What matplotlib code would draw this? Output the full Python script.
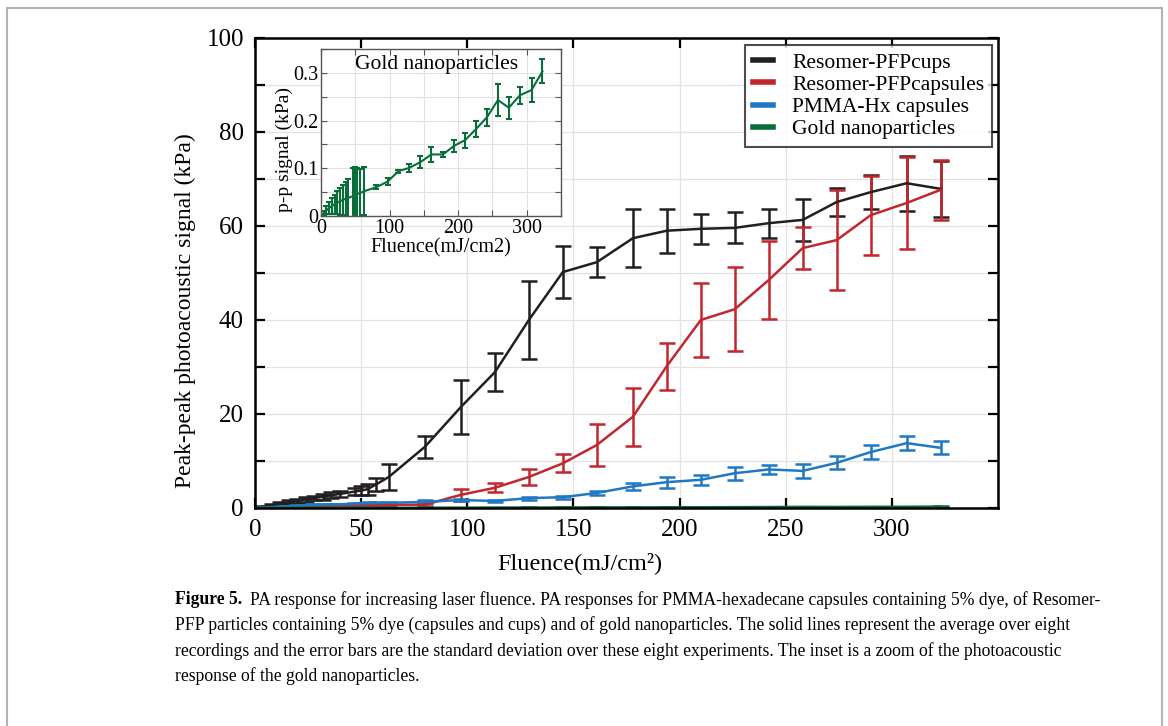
import matplotlib.pyplot as plt
from matplotlib.lines import Line2D
from matplotlib.patches import Rectangle
from matplotlib.ticker import MultipleLocator, FixedLocator

plt.rcParams['font.family'] = ['Liberation Serif', 'DejaVu Serif']

# fluence steps (mJ/cm2), shared by all four samples
fluence = [0, 4, 8, 12, 16, 20, 24, 28, 32, 36, 40, 47, 50, 53, 57, 63,
           80, 97, 113, 129, 145, 161, 178, 194, 210, 226, 242, 258, 274, 290, 307, 323]

# Resomer-PFP cups (kPa)
cups = [0, 0.3, 0.6, 0.9, 1.2, 1.5, 1.8, 2.1, 2.4, 2.7, 3.0, 3.5, 3.7, 4.0, 5.0, 6.6,
        13.0, 21.5, 28.9, 40.0, 50.2, 52.3, 57.4, 59.0, 59.4, 59.6, 60.6, 61.3, 65.1, 67.2, 69.1, 67.9]
cups_err = [0, 0.2, 0.3, 0.3, 0.4, 0.4, 0.5, 0.5, 0.6, 0.6, 0.7, 0.8, 0.9, 1.2, 1.3, 2.8,
            2.4, 5.7, 4.1, 8.2, 5.5, 3.2, 6.2, 4.7, 3.2, 3.3, 3.1, 4.5, 3.0, 3.6, 5.9, 6.0]

# Resomer-PFP capsules
capsules = [0, 0.05, 0.1, 0.15, 0.2, 0.25, 0.3, 0.35, 0.4, 0.45, 0.5, 0.55, 0.6, 0.6, 0.65, 0.7,
            0.7, 2.8, 4.3, 6.6, 9.5, 13.4, 19.4, 30.2, 40.0, 42.3, 48.5, 55.3, 57.0, 62.3, 64.9, 67.7]
capsules_err = [0, 0.1, 0.1, 0.1, 0.1, 0.1, 0.15, 0.15, 0.15, 0.15, 0.2, 0.2, 0.2, 0.2, 0.2, 0.2,
                0.3, 1.3, 1.0, 1.7, 1.9, 4.4, 6.2, 5.0, 7.8, 9.0, 8.3, 4.4, 10.7, 8.4, 9.7, 6.4]

# PMMA-Hx capsules
pmma = [0, 0.1, 0.2, 0.3, 0.4, 0.5, 0.6, 0.65, 0.7, 0.75, 0.8, 0.9, 0.95, 1.0, 1.05, 1.1,
        1.3, 1.7, 1.5, 2.1, 2.3, 3.2, 4.6, 5.5, 6.0, 7.4, 8.2, 7.9, 9.6, 11.9, 13.8, 12.8]
pmma_err = [0, 0.1, 0.1, 0.1, 0.1, 0.1, 0.1, 0.15, 0.15, 0.15, 0.15, 0.2, 0.2, 0.2, 0.2, 0.2,
            0.3, 0.3, 0.2, 0.3, 0.3, 0.5, 0.8, 1.2, 1.0, 1.4, 1.0, 1.5, 1.4, 1.4, 1.5, 1.4]

# gold nanoparticles
gold = [0, 0.006, 0.012, 0.017, 0.021, 0.025, 0.028, 0.031, 0.034, 0.036, 0.038, 0.042, 0.044, 0.046, 0.048, 0.052,
        0.060, 0.072, 0.094, 0.101, 0.113, 0.129, 0.129, 0.147, 0.159, 0.182, 0.207, 0.243, 0.227, 0.253, 0.264, 0.303]
gold_err = [0, 0.004, 0.008, 0.012, 0.016, 0.020, 0.024, 0.028, 0.032, 0.036, 0.040, 0.058, 0.058, 0.055, 0.050, 0.050,
            0.004, 0.007, 0.003, 0.009, 0.013, 0.015, 0.005, 0.012, 0.016, 0.017, 0.018, 0.034, 0.023, 0.018, 0.025, 0.025]

labels = ["Resomer-PFPcups", "Resomer-PFPcapsules", "PMMA-Hx capsules", "Gold nanoparticles"]
colors = ["#231f20", "#c1272d", "#1f78c1", "#0a6e3a"]
x_ticks = [0, 50, 100, 150, 200, 250, 300]

fig = plt.figure(figsize=(11.68, 7.26), dpi=100)

# grey frame round the whole figure
fig.patches.append(Rectangle((7 / 1168, -0.05), 1155 / 1168, 1.05 - 8 / 726,
                             transform=fig.transFigure, fill=False,
                             edgecolor="#b4b4b4", lw=1.5))

ax = fig.add_axes([255 / 1168, 1 - 508 / 726, 743 / 1168, 470 / 726])
for y, e, c in zip([cups, capsules, pmma, gold], [cups_err, capsules_err, pmma_err, gold_err], colors):
    ax.errorbar(fluence, y, yerr=e, color=c, lw=1.8, elinewidth=1.8,
                capsize=6, capthick=1.8)

ax.set_xlim(0, 350)
ax.set_ylim(0, 100)
ax.xaxis.set_major_locator(FixedLocator(x_ticks))
ax.yaxis.set_major_locator(MultipleLocator(20))
ax.yaxis.set_minor_locator(MultipleLocator(10))
ax.grid(True, which="both", color="#e2e2e2", lw=0.9)
ax.set_axisbelow(True)
ax.tick_params(which="both", direction="in", top=True, right=True,
               length=7, width=1.6, labelsize=18)
ax.tick_params(axis="x", pad=8)
ax.tick_params(axis="y", pad=8)
for s in ax.spines.values():
    s.set_linewidth(1.8)
ax.set_xlabel("Fluence(mJ/cm²)", fontsize=17.5)
ax.set_ylabel("Peak-peak photoacoustic signal (kPa)", fontsize=17)
ax.xaxis.set_label_coords(0.437, -0.093)
ax.yaxis.set_label_coords(-0.08, 0.42)

handles = [Line2D([], [], color=c, lw=4) for c in colors]
leg = ax.legend(handles, labels, loc="upper right", bbox_to_anchor=(0.992, 0.985),
                fontsize=15.5, frameon=True, fancybox=False, handlelength=0.95,
                borderpad=0.35, labelspacing=0.1, handletextpad=0.9, borderaxespad=0)
leg.get_frame().set_edgecolor("#222222")
leg.get_frame().set_linewidth(1.5)

# inset: gold only
ins = fig.add_axes([321 / 1168, 1 - 216 / 726, 240 / 1168, 167 / 726])
ins.errorbar(fluence, gold, yerr=gold_err, color=colors[3], lw=1.5,
             elinewidth=1.5, capsize=2.5, capthick=1.5)
ins.set_xlim(0, 350)
ins.set_ylim(0, 0.35)
ins.xaxis.set_major_locator(MultipleLocator(100))
ins.xaxis.set_minor_locator(MultipleLocator(50))
ins.yaxis.set_major_locator(MultipleLocator(0.1))
ins.yaxis.set_minor_locator(MultipleLocator(0.05))
ins.yaxis.set_major_formatter(plt.FuncFormatter(lambda v, p: "0" if v == 0 else f"{v:.1f}"))
ins.grid(True, which="both", color="#e2e2e2", lw=0.8)
ins.set_axisbelow(True)
ins.tick_params(which="both", direction="in", top=True, right=True,
                length=4, width=0.8, color="#555555", labelsize=14.5, pad=2)
for s in ins.spines.values():
    s.set_linewidth(1.0)
    s.set_color("#555555")
ins.set_xlabel("Fluence(mJ/cm2)", fontsize=14.5, labelpad=0)
ins.set_ylabel("p-p signal (kPa)", fontsize=14, labelpad=0)
ins.yaxis.set_label_coords(-0.115, 0.4)
ins.text(0.483, 0.91, "Gold nanoparticles", transform=ins.transAxes,
         ha="center", va="center", fontsize=15.5)

# caption
cap_lines = [
    "PA response for increasing laser fluence. PA responses for PMMA-hexadecane capsules containing 5% dye, of Resomer-",
    "PFP particles containing 5% dye (capsules and cups) and of gold nanoparticles. The solid lines represent the average over eight",
    "recordings and the error bars are the standard deviation over these eight experiments. The inset is a zoom of the photoacoustic",
    "response of the gold nanoparticles.",
]
cap_y = [600, 625, 651, 676]
cap_size = 12.7
x0 = 175 / 1168
fig.canvas.draw()
bold = fig.text(x0, 1 - cap_y[0] / 726, "Figure 5.", fontsize=cap_size, fontweight="bold", va="center")
w = bold.get_window_extent(fig.canvas.get_renderer()).width / 1168
fig.text(x0 + w + 8 / 1168, 1 - cap_y[0] / 726, cap_lines[0], fontsize=cap_size, va="center")
for line, y in zip(cap_lines[1:], cap_y[1:]):
    fig.text(x0, 1 - y / 726, line, fontsize=cap_size, va="center")

fig.savefig("out.png", dpi=100)
